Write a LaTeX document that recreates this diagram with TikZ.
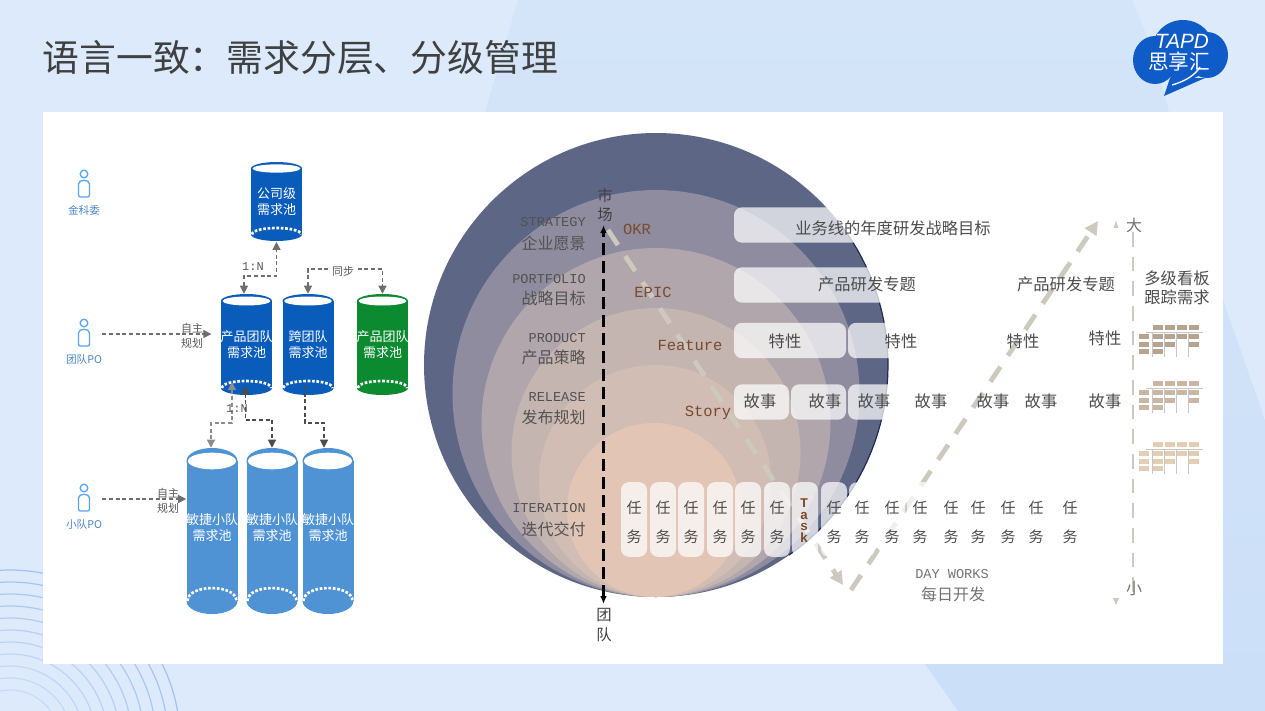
\documentclass[tikz,border=0pt]{standalone}
\usepackage{xcolor}
\usepackage{fontspec}
\usetikzlibrary{positioning,arrows.meta}
\setmainfont{Noto Sans CJK SC}
\newfontfamily\monofam{Liberation Mono}
\newfontfamily\logofam{Liberation Sans}

\definecolor{bgcol}{HTML}{DCEAFC}
\definecolor{bgtop}{HTML}{D4E5F9}
\definecolor{bgbot}{HTML}{CBDFF8}
\definecolor{arccol}{HTML}{9DBDEE}
\definecolor{logoblue}{HTML}{0F5CC8}
\definecolor{poolblue}{HTML}{0A5CBA}
\definecolor{poolgreen}{HTML}{0B8A30}
\definecolor{poolsky}{HTML}{4F93D4}
\definecolor{iconblue}{HTML}{5AA5EF}
\definecolor{iconname}{HTML}{4A86C5}
\definecolor{linkgray}{HTML}{6E6E6E}
\definecolor{pathgray}{HTML}{CEC9BF}
\definecolor{brownlbl}{HTML}{7A4A2C}
\definecolor{ringa}{HTML}{5E6685}
\definecolor{ringb}{HTML}{8F8CA0}
\definecolor{ringc}{HTML}{B0A6AC}
\definecolor{ringd}{HTML}{C5B5B1}
\definecolor{ringe}{HTML}{D2BDB4}
\definecolor{ringf}{HTML}{E2C5B5}
\definecolor{ringedge}{HTML}{1F2A55}
\definecolor{boarda}{HTML}{B5A48F}
\definecolor{boardb}{HTML}{C9B7A4}
\definecolor{boardc}{HTML}{E3CDB4}

\tikzset{
	person/.style={minimum width=27pt, minimum height=12pt, inner sep=0},
	poolbox/.style={rectangle, inner sep=0},
	pooltext/.style={text=white, align=center, font=\fontsize{9.75}{12}\selectfont},
	link/.style={densely dashed, linkgray, line width=0.8pt, -{Triangle[length=6pt,width=6pt]}},
	linkboth/.style={link, {Triangle[length=6pt,width=6pt]}-{Triangle[length=6pt,width=6pt]}},
	small/.style={text=black!65, align=center, font=\fontsize{8.2}{11.2}\selectfont},
	ratio/.style={text=black!65, inner sep=.5pt, font=\monofam\fontsize{9}{11}\selectfont},
	lvlbar/.style={rectangle, rounded corners=6pt, fill=white, fill opacity=.72, minimum height=26.5pt, inner sep=0},
	taskbar/.style={lvlbar, minimum width=19.5pt, minimum height=56pt},
	tasktext/.style={text=black!70, align=center, font=\fontsize{11.25}{21.75}\selectfont},
	bartext/.style={text=black!70, font=\fontsize{12.2}{15}\selectfont},
	lvlen/.style={anchor=east, inner sep=0, text=black!68, font=\monofam\fontsize{10.2}{12}\selectfont},
	lvlcn/.style={anchor=east, inner sep=0, text=black!68, font=\fontsize{12}{15}\selectfont},
	brown/.style={text=brownlbl, font=\monofam\fontsize{11.6}{13}\selectfont},
	bigpath/.style={pathgray, line width=3.6pt, dash pattern=on 13.5pt off 10pt, -{Triangle[length=10pt,width=10pt]}},
}

% cylinder: name, x, top, bottom, ry, colour, text, text shift
\newcommand{\poolcyl}[8]{
	\fill[#6] (#2-25.5,#3+#5) rectangle (#2+25.5,#4-#5);
	\fill[#6] (#2,#3+#5) ellipse [x radius=25.5, y radius=#5];
	\fill[#6] (#2,#4-#5) ellipse [x radius=25.5, y radius=#5];
	\fill[white] (#2,#3+#5) ellipse [x radius=24, y radius=0.64*#5];
	\draw[white, line width=2pt, dash pattern=on 2pt off 1.3pt] (#2-24.5,#4-#5)
		.. controls (#2-24.5,#4-#5-1.33*#5) and (#2+24.5,#4-#5-1.33*#5) .. (#2+24.5,#4-#5);
	\node[poolbox, minimum width=38.25pt, minimum height={(#4-#3)*0.75pt}] (#1) at (#2,{(#3+#4)/2}) {};
	\node[pooltext] at ([yshift=#8]#1.center) {#7};
}

% person icon with its name below
\newcommand{\personicon}[4]{
	\node[person] (#1) at (#2,#3) {};
	\draw[iconblue, line width=1pt] (#2,#3-11) circle [radius=3.8];
	\draw[iconblue, line width=1pt, rounded corners=1.5pt] (#2-5.5,#3+12) -- (#2-5.5,#3+1)
		.. controls (#2-5.5,#3-6) and (#2+5.5,#3-6) .. (#2+5.5,#3+1) -- (#2+5.5,#3+12) -- cycle;
	\node[text=iconname, font=\fontsize{8}{10}\selectfont] at (#2,#3+25.5) {#4};
}

% small board icon
\newcommand{\kanbanicon}[3]{
	\begin{scope}[shift={(#1,#2)}]
		\draw[black!22, line width=.7pt] (7,7) -- (64,7);
		\foreach \c in {13,25,37,49}{
			\draw[black!22, line width=.7pt] (\c,7) -- (\c,32);
		}
		\foreach \c/\r in {1/0,2/0,3/0,4/0,0/1,1/1,2/1,3/1,4/1,0/2,1/2,2/2,4/2,0/3,1/3}{
			\pgfmathsetmacro{\kx}{\c==0 ? 0 : 2+12*\c}
			\pgfmathsetmacro{\ky}{\r==0 ? 0 : (\r==1 ? 9 : (\r==2 ? 17 : 24))}
			\fill[#3] (\kx,\ky) rectangle ++(10,5);
		}
	\end{scope}
}

\begin{document}
\begin{tikzpicture}[x=0.75pt, y=-0.75pt]
	\useasboundingbox (0,0) rectangle (1265,711);
	\clip (0,0) rectangle (1265,711);

	% background
	\fill[bgcol] (0,0) rectangle (1265,711);
	\shade[top color=bgtop, bottom color=bgbot]
		(518,0) -- (1132,0) .. controls (1160,60) and (1165,112) .. (1223,300) -- (1265,420) -- (1265,711)
		-- (958,711) -- (925,664) -- (485,112) -- cycle;
	\foreach \k in {0,...,10}{
		\draw[arccol, line width=.9pt, opacity=.3+.06*\k] (10,740) circle [radius=50+12*\k];
	}
	\fill[white] (43,112) rectangle (1223,664);

	\node[anchor=west, text=black!75, font=\fontsize{27.6}{32}\selectfont, inner sep=0] (title) at (42.5,58) {语言一致：需求分层、分级管理};

	% logo
	\fill[logoblue] (1183,50) ellipse [x radius=31, y radius=30];
	\fill[logoblue] (1155,60) ellipse [x radius=22, y radius=24];
	\fill[logoblue] (1207,55) ellipse [x radius=21, y radius=23];
	\fill[logoblue] (1170,78) -- (1164,96) -- (1205,78) -- cycle;
	\node[text=white, font=\logofam\itshape\fontsize{15.5}{16}\selectfont] (logotop) at (1182,41) {TAPD};
	\node[text=white, font=\fontsize{15.5}{16}\selectfont] (logobot) at (1179,62) {思享汇};
	\draw[white, line width=1pt] (1172,85) .. controls (1186,81) and (1195,75) .. (1200,67);

	% rings
	\fill[ringa] (656,365) circle [radius=232];
	\draw[ringedge, line width=.9pt] plot[domain=-37:55, samples=40] ({656+232*cos(\x)},{365+232*sin(\x)});
	\fill[ringb] (656,393.5) circle [radius=203.5];
	\fill[ringc] (656,422.5) circle [radius=174.5];
	\fill[ringd] (656,452.5) circle [radius=144.5];
	\fill[ringe] (655,481) circle [radius=116];
	\fill[ringf] (654,510) circle [radius=87];

	% long lines under the bars
	\coordinate (marketend) at (603.5,225);
	\coordinate (teamend) at (603.5,604);
	\draw[black, line width=2pt, dash pattern=on 9pt off 4.5pt, {Latex[length=6pt,width=5pt]}-{Latex[length=6pt,width=5pt]}] (teamend) -- (marketend);

	\coordinate (pathstart) at (608,230);
	\coordinate (pathlow) at (843,585);
	\coordinate (pathbend) at (851,590);
	\coordinate (pathtop) at (1098,221);
	\draw[bigpath] (pathstart) -- (pathlow);
	\draw[bigpath] (pathbend) -- (pathtop);

	\coordinate (scaletop) at (1133,232);
	\coordinate (scalelow) at (1133,598);
	\draw[pathgray, line width=2.2pt, dash pattern=on 11pt off 7.5pt] (scaletop) -- (scalelow);
	\fill[pathgray] (1116,221) -- (1113.5,228) -- (1118.5,228) -- cycle;
	\fill[pathgray] (1116,605) -- (1113,598) -- (1119,598) -- cycle;

	% bars
	\node[lvlbar, minimum width=199.5pt] (okrbar) at (867,225) {};
	\node[lvlbar, minimum width=199.5pt] (epicbar) at (867,285) {};
	\node[lvlbar, minimum width=84pt] (featbara) at (790,340.5) {};
	\node[lvlbar, minimum width=84pt] (featbarb) at (904,340.5) {};
	\node[lvlbar, minimum width=41.25pt] (storybara) at (761.5,402) {};
	\node[lvlbar, minimum width=41.25pt] (storybarb) at (818.5,402) {};
	\node[lvlbar, minimum width=41.25pt] (storybarc) at (875.5,402) {};
	\foreach \tx in {634,663,691,720,748,777,834,862,892,920,951,978,1008,1036,1070}{
		\node[taskbar] (task\tx) at (\tx,519.5) {};
		\node[tasktext] (tasktxt\tx) at (\tx,522) {任\\务};
	}
	\node[taskbar] (taskbarword) at (805,519.5) {};
	\node[tasktext, text=brownlbl, font=\monofam\bfseries\fontsize{10}{8.6}\selectfont] (taskword) at (804,520.5) {T\\a\\s\\k};

	% level labels
	\foreach \ly/\cy/\en/\cn in {222/243/STRATEGY/企业愿景,279/298/PORTFOLIO/战略目标,338/357/PRODUCT/产品策略,397/417/RELEASE/发布规划,508/529/ITERATION/迭代交付}{
		\node[lvlen] (en\en) at (586,\ly) {\en};
		\node[lvlcn] (cn\en) at (586,\cy) {\cn};
	}
	\node[text=black!75, align=center, font=\fontsize{11.5}{14.25}\selectfont] (marketlbl) at (605,205) {市\\场};
	\node[text=black!75, align=center, font=\fontsize{11.5}{15}\selectfont] (teamlbl) at (604,625) {团\\队};

	\node[brown] (okrlbl) at (637,229) {OKR};
	\node[brown] (epiclbl) at (653,292) {EPIC};
	\node[brown] (featlbl) at (690,345) {Feature};
	\node[brown] (storylbl) at (708,413) {Story};

	\node[bartext] (okrtxt) at (893,228) {业务线的年度研发战略目标};
	\node[bartext] (epictxta) at (867,284) {产品研发专题};
	\node[bartext] (epictxtb) at (1066,284) {产品研发专题};
	\foreach \fx/\fy in {785/341,901/341,1023/341,1105/338}{
		\node[bartext] (feat\fx) at (\fx,\fy) {特性};
	}
	\foreach \sx in {760,825,874,931,993,1041,1105}{
		\node[bartext] (story\sx) at (\sx,401) {故事};
	}
	\node[bartext, align=center, font=\fontsize{12.2}{14.4}\selectfont] (boardlbl) at (1177,287.5) {多级看板\\跟踪需求};
	\node[text=black!55, align=center, font=\monofam\fontsize{10.2}{12}\selectfont] (daylbl) at (952,574) {DAY WORKS};
	\node[text=black!55, font=\fontsize{12}{15}\selectfont] (dailylbl) at (953,594) {每日开发};
	\node[text=black!55, font=\fontsize{12}{15}\selectfont] (biglbl) at (1134,225) {大};
	\node[text=black!55, font=\fontsize{12}{15}\selectfont] (smalllbl) at (1134,589) {小};

	\kanbanicon{1139}{325}{boarda}
	\kanbanicon{1139}{381}{boardb}
	\kanbanicon{1139}{442}{boardc}

	% people
	\personicon{pocommittee}{84}{185}{金科委}
	\personicon{poteam}{84}{334}{团队PO}
	\personicon{posquad}{84}{499}{小队PO}

	% pools
	\poolcyl{poolcorp}{276.5}{162}{241}{6.5}{poolblue}{公司级\\需求池}{0pt}
	\poolcyl{poolprod}{246.5}{294}{395}{7}{poolblue}{产品团队\\需求池}{0pt}
	\poolcyl{poolcross}{308}{294}{395}{7}{poolblue}{跨团队\\需求池}{0pt}
	\poolcyl{poolother}{382.5}{294}{395}{7}{poolgreen}{产品团队\\需求池}{0pt}
	\foreach \px/\pn in {212/a,272/b,328/c}{
		\poolcyl{poolagile\pn}{\px}{448}{614}{13}{poolsky}{敏捷小队\\需求池}{2.5pt}
	}

	% links
	\coordinate (corpbend) at (260,276);
	\draw[linkboth] ([xshift=-1.9pt]poolprod.north) |- (corpbend) -| ([yshift=-0.5pt]poolcorp.south);
	\coordinate (syncbend) at (345,269);
	\draw[linkboth] (poolcross.north) |- (syncbend) -| (poolother.north);

	\draw[link] (poteam.east) -- ([xshift=-7pt]poolprod.west |- poteam.east);
	\draw[link] (posquad.east) -- (poolagilea.west |- posquad.east);

	\coordinate (agileabend) at (220,423);
	\coordinate (agilebbend) at (260,420);
	\coordinate (agilecbend) at (315,423);
	\draw[linkboth, black!45] ([xshift=-10.9pt,yshift=10pt]poolprod.south) |- (agileabend) -| ([xshift=-0.75pt]poolagilea.north);
	\draw[linkboth, black!70] ([xshift=-1pt,yshift=7pt]poolprod.south) |- (agilebbend) -| (poolagileb.north);
	\draw[link, black!70] ([xshift=-2.25pt,yshift=7pt]poolcross.south) |- (agilecbend) -| ([xshift=-3pt]poolagilec.north);

	\node[ratio, fill=white] (corpratio) at (253,267) {1:N};
	\node[small, fill=white, inner sep=.5pt] (syncword) at (343,271) {同步};
	\node[small] (planteam) at (192,335.5) {自主\\规划};
	\node[small] (plansquad) at (168,500.5) {自主\\规划};
	\node[ratio] (agileratio) at (237,409) {1:N};
\end{tikzpicture}
\end{document}
